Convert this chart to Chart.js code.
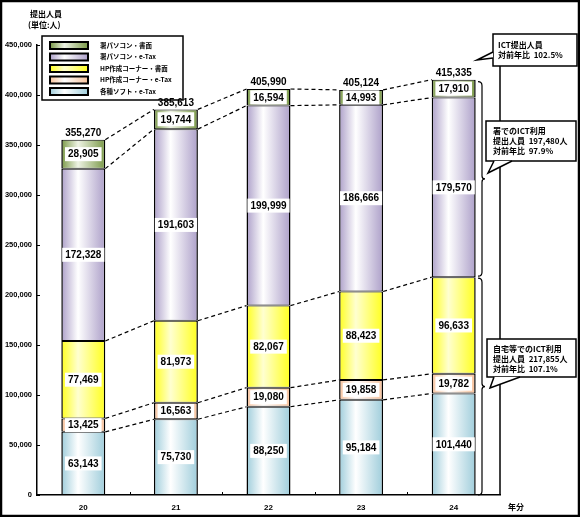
<!DOCTYPE html>
<html>
<head>
<meta charset="utf-8">
<script src="https://cdn.jsdelivr.net/npm/chart.js@4/dist/chart.umd.min.js"></script>
<style>
  html, body { margin: 0; padding: 0; background: #fff; }
  canvas { display: block; }
</style>
</head>
<body>
<canvas id="c" width="580" height="517"></canvas>
<script>
// Categories (年分) and stacked series, bottom to top.
const years = ['20', '21', '22', '23', '24'];
const softEtax = [63143, 75730, 88250, 95184, 101440];
const hpEtax = [13425, 16563, 19080, 19858, 19782];
const hpPaper = [77469, 81973, 82067, 88423, 96633];
const pcEtax = [172328, 191603, 199999, 186666, 179570];
const pcPaper = [28905, 19744, 16594, 14993, 17910];
const totals = [355270, 385613, 405990, 405124, 415335];

const seriesNames = [
    '各種ソフト・e-Tax', 'HP作成コーナー・e-Tax', 'HP作成コーナー・書面',
    '署パソコン・e-Tax', '署パソコン・書面',
];
const seriesValues = [softEtax, hpEtax, hpPaper, pcEtax, pcPaper];
// Edge colour and centre colour of each bar gradient.
const seriesColors = [
    ['#9fcddb', '#ffffff'], ['#f7c29c', '#ffffff'], ['#ffff1e', '#ffffd0'],
    ['#ada0c9', '#ffffff'], ['#7a9947', '#eef3e4'],
];

const yTicks = [0, 50000, 100000, 150000, 200000, 250000, 300000, 350000,
                400000, 450000];

const titleLines = ['提出人員', '(単位:人)'];
const xTitle = '年分';
const callouts = [
    ['ICT提出人員', '対前年比  102.5%'],
    ['署でのICT利用', '提出人員  197,480人', '対前年比  97.9%'],
    ['自宅等でのICT利用', '提出人員  217,855人', '対前年比  107.1%'],
];

const BAR = 0.475;
const jp = '"Noto Sans CJK JP", "Liberation Sans", sans-serif';
const num = '"Liberation Sans", Arial, sans-serif';

function gradient(ctx, x0, x1, [edge, mid]) {
    const g = ctx.createLinearGradient(x0, 0, x1, 0);
    g.addColorStop(0, edge);
    g.addColorStop(0.38, mid);
    g.addColorStop(1, edge);
    return g;
}

function barFill(si) {
    return c => {
        const xs = c.chart.scales.x;
        if (c.type !== 'data' || !xs) return seriesColors[si][0];
        const cx = xs.getPixelForValue(c.dataIndex);
        const w = xs.width / years.length * BAR;
        if (!isFinite(cx) || !isFinite(w) || w <= 0) return seriesColors[si][0];
        return gradient(c.chart.ctx, cx - w / 2, cx + w / 2, seriesColors[si]);
    };
}

// Legend box, drawn under the bars and labels.
const legendBox = {
    id: 'legend-box',
    beforeDatasetsDraw(chart) {
        const ctx = chart.ctx;
        ctx.save();
        ctx.strokeStyle = '#000';
        ctx.lineWidth = 1.5;
        ctx.fillStyle = '#fff';
        ctx.fillRect(42, 36, 141, 64);
        ctx.strokeRect(42, 36, 141, 64);
        ctx.font = `bold 6.5px ${jp}`;
        ctx.textAlign = 'left';
        ctx.textBaseline = 'middle';
        for (let k = 0; k < seriesNames.length; k++) {
            const si = seriesNames.length - 1 - k;
            const y = 42 + k * 11.5;
            ctx.fillStyle = gradient(ctx, 50, 88, seriesColors[si]);
            ctx.fillRect(50, y, 38, 7);
            ctx.lineWidth = 2;
            ctx.strokeRect(50, y, 38, 7);
            ctx.fillStyle = '#000';
            ctx.fillText(seriesNames[si], 100, y + 3.5);
        }
        ctx.restore();
    },
};

// Dashed connectors, value boxes, totals.
const barDecor = {
    id: 'bar-decor',
    afterDatasetsDraw(chart) {
        const ctx = chart.ctx;
        ctx.save();
        // Dashed lines between segment tops of neighbouring bars.
        ctx.setLineDash([4, 3]);
        ctx.lineWidth = 1.2;
        ctx.strokeStyle = '#000';
        for (let d = 0; d < seriesValues.length; d++) {
            const md = chart.getDatasetMeta(d);
            for (let i = 0; i + 1 < md.data.length; i++) {
                const a = md.data[i], b = md.data[i + 1];
                ctx.beginPath();
                ctx.moveTo(a.x + a.width / 2, a.y);
                ctx.lineTo(b.x - b.width / 2, b.y);
                ctx.stroke();
            }
        }
        ctx.setLineDash([]);
        // Value boxes inside segments.
        ctx.font = `bold 10px ${num}`;
        ctx.textAlign = 'center';
        ctx.textBaseline = 'middle';
        for (let d = 0; d < seriesValues.length; d++) {
            const md = chart.getDatasetMeta(d);
            md.data.forEach((bar, i) => {
                const s = seriesValues[d][i].toLocaleString('en-US');
                const cy = (bar.y + bar.base) / 2;
                const w = ctx.measureText(s).width + 6;
                ctx.fillStyle = '#fff';
                ctx.fillRect(bar.x - w / 2, cy - 7, w, 14);
                ctx.fillStyle = '#000';
                ctx.fillText(s, bar.x, cy + 0.5);
            });
        }
        // Totals above bars.
        const top = chart.getDatasetMeta(seriesValues.length - 1);
        ctx.textBaseline = 'bottom';
        top.data.forEach((bar, i) => {
            ctx.fillText(totals[i].toLocaleString('en-US'), bar.x, bar.y - 1.5);
        });
        ctx.restore();
    },
};

function brace(ctx, x, y1, y2) {
    const ym = (y1 + y2) / 2;
    ctx.beginPath();
    ctx.moveTo(x - 4, y1);
    ctx.quadraticCurveTo(x, y1, x, y1 + 4);
    ctx.lineTo(x, ym - 3);
    ctx.quadraticCurveTo(x, ym, x + 3, ym);
    ctx.quadraticCurveTo(x, ym, x, ym + 3);
    ctx.lineTo(x, y2 - 4);
    ctx.quadraticCurveTo(x, y2, x - 4, y2);
    ctx.stroke();
}

function callout(ctx, box, wedge, lines, tx, ty, lh) {
    const [x0, y0, x1, y1] = box;
    ctx.beginPath();
    ctx.rect(x0, y0, x1 - x0, y1 - y0);
    ctx.fillStyle = '#fff';
    ctx.fill();
    ctx.stroke();
    ctx.beginPath();
    ctx.moveTo(...wedge[0]);
    ctx.lineTo(...wedge[1]);
    ctx.lineTo(...wedge[2]);
    ctx.closePath();
    ctx.fill();
    ctx.beginPath();
    ctx.moveTo(...wedge[0]);
    ctx.lineTo(...wedge[1]);
    ctx.lineTo(...wedge[2]);
    ctx.stroke();
    ctx.fillStyle = '#000';
    ctx.font = `bold 8px ${jp}`;
    ctx.textAlign = 'left';
    ctx.textBaseline = 'middle';
    lines.forEach((l, i) => ctx.fillText(l, tx, ty + i * lh));
}

// Frame, titles, ticks, braces and callouts.
const frame = {
    id: 'frame',
    afterDraw(chart) {
        const ctx = chart.ctx, a = chart.chartArea;
        const ys = chart.scales.y;
        ctx.save();
        ctx.strokeStyle = '#000';
        ctx.fillStyle = '#000';

        // Inner tick marks.
        ctx.lineWidth = 1;
        for (const v of yTicks) {
            const y = Math.round(ys.getPixelForValue(v)) + 0.5;
            ctx.beginPath();
            ctx.moveTo(a.left, y);
            ctx.lineTo(a.left + 3, y);
            ctx.stroke();
        }
        for (let i = 1; i < years.length; i++) {
            const x = Math.round(a.left + (a.right - a.left) * i / years.length) + 0.5;
            ctx.beginPath();
            ctx.moveTo(x, a.bottom);
            ctx.lineTo(x, a.bottom - 3);
            ctx.stroke();
        }
        // Right plot edge.
        ctx.lineWidth = 1.5;
        ctx.beginPath();
        ctx.moveTo(a.right, a.top);
        ctx.lineTo(a.right, a.bottom);
        ctx.stroke();

        // Titles.
        ctx.font = `bold 8px ${jp}`;
        ctx.textAlign = 'left';
        ctx.textBaseline = 'middle';
        ctx.fillText(titleLines[0], 30, 14);
        ctx.fillText(titleLines[1], 28, 25);
        ctx.fillText(xTitle, 508, 507);

        // Braces on the right of the last bar.
        const last = years.length - 1;
        let cum = 0;
        for (const s of seriesValues.slice(0, 3)) cum += s[last];
        const yHome = ys.getPixelForValue(cum);
        const yTop = ys.getPixelForValue(totals[last]);
        ctx.lineWidth = 1.2;
        brace(ctx, 482, yTop + 2, yHome - 1);
        brace(ctx, 482, yHome + 1, a.bottom);

        // Callouts.
        ctx.lineWidth = 1.5;
        callout(ctx, [493, 34, 577, 66], [[493, 52], [477, 60], [493, 58]],
                callouts[0], 498, 45, 10);
        callout(ctx, [486, 121, 576, 161], [[494, 161], [488, 173], [512, 161]],
                callouts[1], 493, 131, 10);
        callout(ctx, [487, 339, 576, 377], [[494, 377], [490, 388], [520, 377]],
                callouts[2], 493, 349, 10);

        // Outer border.
        ctx.lineWidth = 2.5;
        ctx.strokeRect(1, 1, 578, 515);
        ctx.restore();
    },
};

Chart.defaults.font.family = num;
Chart.defaults.font.weight = 'bold';
Chart.defaults.color = '#000';

new Chart(document.getElementById('c'), {
    type: 'bar',
    data: {
        labels: years,
        datasets: seriesValues.map((data, si) => ({
            label: seriesNames[si],
            data,
            backgroundColor: barFill(si),
            borderColor: '#000',
            borderWidth: {top: 1, bottom: 1, left: 1.5, right: 1.5},
            borderSkipped: false,
            categoryPercentage: 1,
            barPercentage: BAR,
        })),
    },
    plugins: [legendBox, barDecor, frame],
    options: {
        responsive: false,
        animation: false,
        layout: {padding: {left: 0, right: 80, top: 45, bottom: 0}},
        plugins: {legend: {display: false}, tooltip: {enabled: false}},
        scales: {
            x: {
                stacked: true,
                grid: {display: false, drawTicks: false},
                border: {display: true, color: '#000', width: 1.5},
                ticks: {padding: 8, font: {size: 8, weight: 'bold'}},
                afterFit: s => { s.height = 22; },
            },
            y: {
                stacked: true,
                min: 0, max: 450000,
                grid: {display: false, drawTicks: false},
                border: {display: true, color: '#000', width: 1.5},
                ticks: {
                    stepSize: 50000, padding: 5,
                    font: {size: 7.5, weight: 'bold'},
                    callback: v => v.toLocaleString('en-US'),
                },
                afterFit: s => { s.width = 37; },
            },
        },
    },
});
</script>
</body>
</html>
